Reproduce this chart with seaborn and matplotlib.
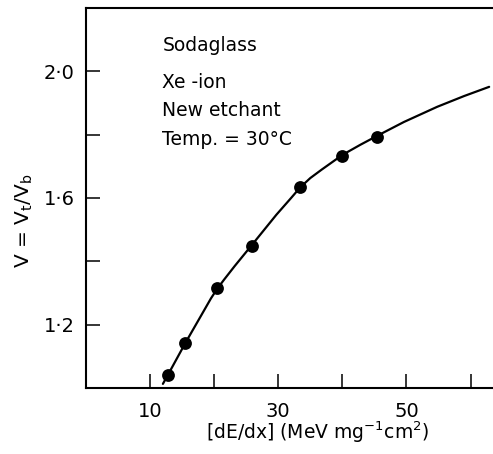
import matplotlib
matplotlib.use("Agg")
import matplotlib.pyplot as plt
import seaborn as sns
import pandas as pd

# Measured etch-rate ratio for Xe ions in sodaglass
dedx = [12.8, 15.5, 20.4, 25.9, 33.4, 40.0, 45.4]
ratio = [1.042, 1.142, 1.316, 1.449, 1.634, 1.733, 1.793]

# Smooth fitted curve through the measurements
curve_x = [12.0, 12.8, 15.5, 18.0, 19.5, 20.4, 21.5, 23.2, 25.9, 29.7, 32.0, 33.4,
           35.0, 36.8, 40.0, 42.8, 45.4, 49.6, 54.8, 59.0, 62.9]
curve_y = [1.013, 1.042, 1.142, 1.230, 1.283, 1.311, 1.341, 1.385, 1.452, 1.547, 1.600, 1.633,
           1.663, 1.690, 1.736, 1.768, 1.796, 1.840, 1.888, 1.922, 1.951]

x_ticks = [10, 20, 30, 40, 50, 60]
x_tick_labels = ["10", "", "30", "", "50", ""]
y_ticks = [1.2, 1.4, 1.6, 1.8, 2.0]
y_tick_labels = ["1·2", "", "1·6", "", "2·0"]

notes = ["Sodaglass", "Xe -ion", "New etchant", "Temp. = 30°C"]
note_y = [2.082, 1.965, 1.877, 1.786]

sns.set_style("ticks")
plt.rcParams["font.family"] = ["DejaVu Sans"]
plt.rcParams["text.color"] = "black"
plt.rcParams["axes.labelcolor"] = "black"
plt.rcParams["xtick.color"] = "black"
plt.rcParams["ytick.color"] = "black"

points = pd.DataFrame({"dedx": dedx, "ratio": ratio})
fit = pd.DataFrame({"dedx": curve_x, "ratio": curve_y})

fig = plt.figure(figsize=(4.93, 4.54), dpi=100)
ax = fig.add_axes([0.1744, 0.1454, 0.8256, 0.837])

sns.lineplot(data=fit, x="dedx", y="ratio", ax=ax, color="black",
             linewidth=1.6, sort=False, estimator=None)
sns.scatterplot(data=points, x="dedx", y="ratio", ax=ax, color="black",
                s=85, edgecolor="black", linewidth=0, zorder=3)

ax.set_xlim(0, 63.5)
ax.set_ylim(1.0, 2.2)
ax.set_xticks(x_ticks)
ax.set_xticklabels(x_tick_labels)
ax.set_yticks(y_ticks)
ax.set_yticklabels(y_tick_labels)
ax.tick_params(axis="both", direction="in", length=10, width=1.1,
               labelsize=14, colors="black")
ax.tick_params(axis="x", pad=10)
ax.tick_params(axis="y", pad=8)

ax.spines["right"].set_visible(False)
for side in ("left", "bottom", "top"):
    ax.spines[side].set_linewidth(1.5)
    ax.spines[side].set_color("black")

ax.set_xlabel("[dE/dx] (MeV mg$^{-1}$cm$^2$)", fontsize=13.5)
ax.xaxis.set_label_coords(0.57, -0.083)
ax.set_ylabel("V = V$_\\mathregular{t}$/V$_\\mathregular{b}$", fontsize=14.5)
ax.yaxis.set_label_coords(-0.125, 0.44)

for text, yv in zip(notes, note_y):
    ax.text(11.9, yv, text, fontsize=13.5, va="center", ha="left", color="black")

fig.savefig("out.png", dpi=100)
